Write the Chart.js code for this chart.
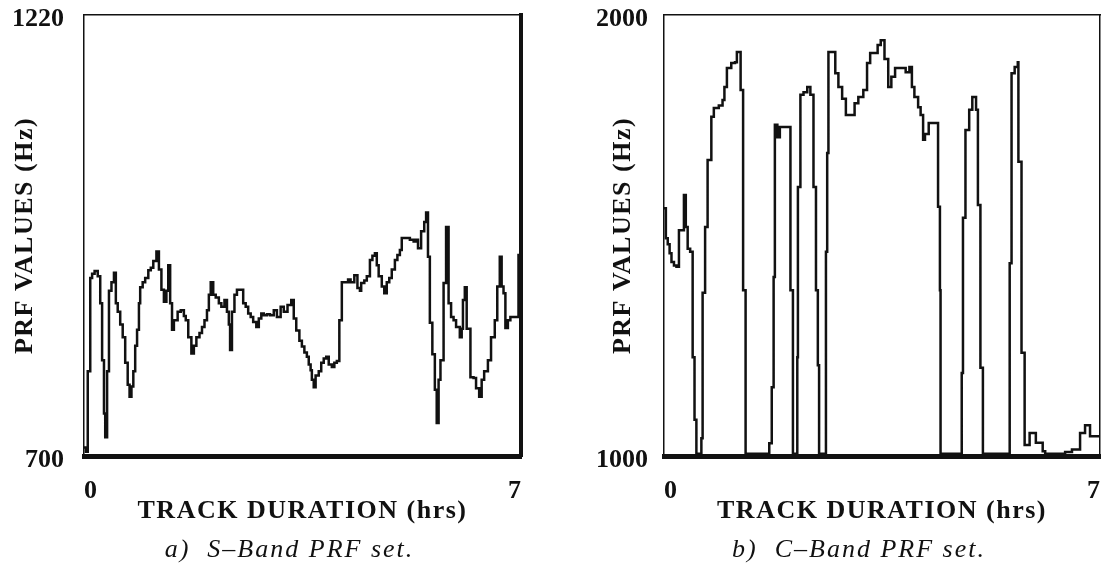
<!DOCTYPE html>
<html>
<head>
<meta charset="utf-8">
<title>S-Band and C-Band PRF sets</title>
<script src="https://cdn.jsdelivr.net/npm/chart.js@4.4.0/dist/chart.umd.min.js"></script>
<style>
  html, body { margin: 0; padding: 0; background: #fff; }
  #wrap { position: relative; width: 1102px; height: 563px; }
  canvas { position: absolute; top: 0; }
  #sBand { left: 0; }
  #cBand { left: 551px; }
</style>
</head>
<body>
<div id="wrap">
  <canvas id="sBand" width="551" height="563"></canvas>
  <canvas id="cBand" width="551" height="563"></canvas>
</div>
<script>
// values: track time (hrs) and PRF (Hz)
const sBandHours = [
  0.00, 0.03, 0.06, 0.10, 0.13, 0.17, 0.22, 0.26, 0.29, 0.32, 0.34, 0.37, 0.40, 0.44, 0.48, 0.51,
  0.54, 0.58, 0.62, 0.66, 0.70, 0.73, 0.76, 0.79, 0.82, 0.85, 0.88, 0.90, 0.94, 0.98, 1.03, 1.07,
  1.11, 1.16, 1.20, 1.24, 1.28, 1.32, 1.35, 1.38, 1.41, 1.44, 1.50, 1.55, 1.60, 1.63, 1.67, 1.72,
  1.76, 1.80, 1.85, 1.89, 1.93, 1.97, 2.00, 2.03, 2.07, 2.11, 2.16, 2.20, 2.25, 2.29, 2.32, 2.34,
  2.37, 2.41, 2.45, 2.50, 2.55, 2.59, 2.63, 2.67, 2.71, 2.76, 2.80, 2.84, 2.88, 2.93, 2.98, 3.04,
  3.09, 3.15, 3.20, 3.26, 3.32, 3.36, 3.40, 3.45, 3.49, 3.53, 3.57, 3.60, 3.63, 3.65, 3.68, 3.71,
  3.76, 3.80, 3.84, 3.88, 3.92, 3.97, 4.01, 4.05, 4.09, 4.13, 4.18, 4.23, 4.27, 4.33, 4.38, 4.42,
  4.44, 4.49, 4.53, 4.58, 4.62, 4.66, 4.69, 4.72, 4.77, 4.81, 4.85, 4.89, 4.93, 4.98, 5.02, 5.06,
  5.09, 5.15, 5.22, 5.28, 5.31, 5.35, 5.40, 5.45, 5.48, 5.51, 5.54, 5.58, 5.62, 5.65, 5.68, 5.71,
  5.76, 5.80, 5.84, 5.88, 5.92, 5.96, 6.02, 6.05, 6.07, 6.10, 6.13, 6.19, 6.24, 6.28, 6.33, 6.37,
  6.41, 6.47, 6.52, 6.58, 6.62, 6.66, 6.69, 6.72, 6.75, 6.79, 6.83, 6.88, 6.92, 6.96, 7.00
];
const sBandPrf = [
  710, 705, 800, 910, 915, 918, 912, 880, 813, 750, 722, 800, 895, 905, 916, 880,
  870, 855, 840, 810, 784, 770, 782, 800, 830, 849, 880, 899, 905, 910, 919, 922,
  930, 941, 920, 896, 882, 895, 925, 880, 849, 860, 870, 872, 865, 860, 840, 821,
  830, 840, 845, 852, 860, 872, 890, 905, 890, 887, 880, 876, 884, 870, 855, 825,
  870, 890, 896, 896, 880, 876, 868, 864, 858, 852, 862, 868, 866, 867, 866, 872,
  864, 876, 870, 878, 884, 862, 848, 836, 829, 822, 817, 808, 801, 790, 781, 795,
  800, 810, 815, 817, 808, 805, 810, 812, 860, 905, 905, 908, 905, 913, 898, 895,
  904, 907, 912, 931, 936, 939, 925, 912, 900, 892, 905, 910, 920, 931, 937, 943,
  957, 957, 955, 953, 955, 945, 965, 976, 987, 935, 857, 820, 778, 739, 790, 813,
  904, 970, 880, 864, 860, 852, 840, 850, 884, 899, 850, 793, 792, 780, 770, 790,
  800, 813, 840, 860, 900, 935, 900, 892, 851, 860, 864, 864, 864, 937, 860
];

const cBandHours = [
  0.00, 0.03, 0.06, 0.09, 0.12, 0.16, 0.20, 0.24, 0.30, 0.32, 0.35, 0.38, 0.42, 0.46, 0.49, 0.52,
  0.59, 0.60, 0.62, 0.66, 0.70, 0.76, 0.80, 0.88, 0.94, 0.97, 1.01, 1.08, 1.14, 1.17, 1.22, 1.23,
  1.27, 1.31, 1.67, 1.69, 1.73, 1.76, 1.78, 1.82, 1.86, 1.90, 2.01, 2.03, 2.07, 2.13, 2.14, 2.15,
  2.19, 2.24, 2.30, 2.35, 2.40, 2.44, 2.47, 2.49, 2.58, 2.60, 2.62, 2.64, 2.72, 2.75, 2.80, 2.86,
  2.92, 3.00, 3.06, 3.12, 3.20, 3.26, 3.31, 3.43, 3.48, 3.54, 3.60, 3.65, 3.71, 3.79, 3.88, 3.94,
  3.98, 4.02, 4.08, 4.12, 4.16, 4.19, 4.25, 4.36, 4.40, 4.43, 4.44, 4.76, 4.78, 4.80, 4.84, 4.90,
  4.95, 5.01, 5.04, 5.08, 5.12, 5.52, 5.55, 5.58, 5.63, 5.68, 5.69, 5.74, 5.79, 5.87, 5.97, 6.08,
  6.12, 6.39, 6.44, 6.55, 6.68, 6.76, 6.84, 7.00
];
const cBandPrf = [
  1562, 1494, 1480, 1460, 1440, 1432, 1429, 1512, 1512, 1592, 1519, 1470, 1463, 1224, 1082, 1005,
  1005, 1040, 1370, 1519, 1671, 1769, 1789, 1795, 1807, 1837, 1880, 1891, 1893, 1916, 1916, 1830,
  1376, 1005, 1005, 1029, 1156, 1406, 1751, 1723, 1746, 1746, 1746, 1376, 1005, 1005, 1224, 1610,
  1819, 1825, 1837, 1819, 1610, 1376, 1206, 1005, 1005, 1463, 1687, 1916, 1916, 1868, 1837, 1810,
  1773, 1773, 1800, 1814, 1830, 1891, 1914, 1932, 1943, 1900, 1837, 1860, 1880, 1880, 1870, 1882,
  1837, 1814, 1791, 1773, 1717, 1730, 1755, 1755, 1565, 1376, 1005, 1005, 1188, 1540, 1739, 1785,
  1814, 1785, 1569, 1200, 1005, 1005, 1437, 1868, 1882, 1893, 1667, 1234, 1025, 1052, 1030, 1011,
  1005, 1005, 1009, 1015, 1052, 1070, 1045, 1045
];

// tick labels
const hourTicks = [0, 7];
const sBandTicks = [700, 1220];
const cBandTicks = [1000, 2000];

const xTitle = 'TRACK DURATION (hrs)';
const yTitle = 'PRF VALUES (Hz)';
const sBandCaption = 'a)  S\u2013Band PRF set.';
const cBandCaption = 'b)  C\u2013Band PRF set.';

const SERIF = '"Liberation Serif", "Times New Roman", serif';
const INK = '#111';

// scale titles sit on the grid layer (z 2), drawn after the datasets, so they
// pick up the letter spacing while the tick labels do not
const caption = {
  id: 'caption',
  beforeDraw(chart) { chart.ctx.letterSpacing = '0px'; },
  afterDatasetsDraw(chart) { chart.ctx.letterSpacing = '1.5px'; },
  afterDraw(chart, args, opts) {
    const ctx = chart.ctx;
    const a = chart.chartArea;
    ctx.save();
    ctx.letterSpacing = '2px';
    ctx.font = 'italic 26px ' + SERIF;
    ctx.fillStyle = INK;
    ctx.textAlign = 'center';
    ctx.textBaseline = 'middle';
    ctx.fillText(opts.text, (a.left + a.right) / 2 + opts.shift, opts.y);
    ctx.restore();
    ctx.letterSpacing = '0px';
  }
};

function noPad(s) {
  s.paddingTop = 0; s.paddingBottom = 0; s.paddingLeft = 0; s.paddingRight = 0;
}

function makeChart(id, hours, prf, yTicks, text, box) {
  const points = hours.map((h, i) => ({ x: h, y: prf[i] }));
  const tickFont = { family: SERIF, size: 26, weight: 'bold' };
  return new Chart(document.getElementById(id), {
    type: 'line',
    data: {
      datasets: [{
        data: points,
        stepped: true,
        borderColor: INK,
        borderWidth: 2.5,
        pointRadius: 0,
        fill: false
      }]
    },
    options: {
      responsive: false,
      animation: false,
      events: [],
      layout: { padding: 0, autoPadding: false },
      plugins: {
        legend: { display: false },
        tooltip: { enabled: false },
        caption: { text: text, shift: box.capShift, y: 550 }
      },
      scales: {
        x: {
          type: 'linear', position: 'bottom',
          min: hourTicks[0], max: hourTicks[1],
          afterBuildTicks: s => { s.ticks = hourTicks.map(v => ({ value: v })); },
          afterFit: s => { s.height = 563 - 456; noPad(s); },
          grid: { display: false, z: 2 },
          border: { color: INK, width: 5, z: 3 },
          ticks: { align: 'inner', padding: 12, color: INK, font: tickFont },
          title: {
            display: true, text: xTitle, color: INK,
            font: { family: SERIF, size: 26, weight: 'bold' },
            padding: { top: 0, bottom: 36 }
          }
        },
        x2: {
          type: 'linear', position: 'top',
          min: hourTicks[0], max: hourTicks[1],
          afterFit: s => { s.height = 15; noPad(s); },
          grid: { display: false, z: 2 },
          border: { color: INK, width: 1.5, z: 3 },
          ticks: { display: false }
        },
        y: {
          type: 'linear', position: 'left',
          min: yTicks[0], max: yTicks[1],
          afterBuildTicks: s => { s.ticks = yTicks.map(v => ({ value: v })); },
          afterFit: s => { s.width = box.left; noPad(s); },
          grid: { display: false, z: 2 },
          border: { color: INK, width: 1.5, z: 3 },
          ticks: {
            padding: box.tickPad, labelOffset: 4, color: INK, font: tickFont,
            format: { useGrouping: false }
          },
          title: {
            display: true, text: yTitle, color: INK,
            font: { family: SERIF, size: 26, weight: 'bold' },
            padding: { top: box.titlePad, bottom: 0 }
          }
        },
        y2: {
          type: 'linear', position: 'right',
          min: yTicks[0], max: yTicks[1],
          afterFit: s => { s.width = 551 - box.right; noPad(s); },
          grid: { display: false, z: 2 },
          border: { color: INK, width: box.rightBorder, z: 3 },
          ticks: { display: false }
        }
      }
    },
    plugins: [caption]
  });
}

makeChart('sBand', sBandHours, sBandPrf, sBandTicks, sBandCaption,
  { left: 84, right: 521, tickPad: 12, titlePad: 10, rightBorder: 4, capShift: -13 });
makeChart('cBand', cBandHours, cBandPrf, cBandTicks, cBandCaption,
  { left: 113, right: 549, tickPad: 8, titlePad: 57, rightBorder: 1.5, capShift: -23 });
</script>
</body>
</html>
